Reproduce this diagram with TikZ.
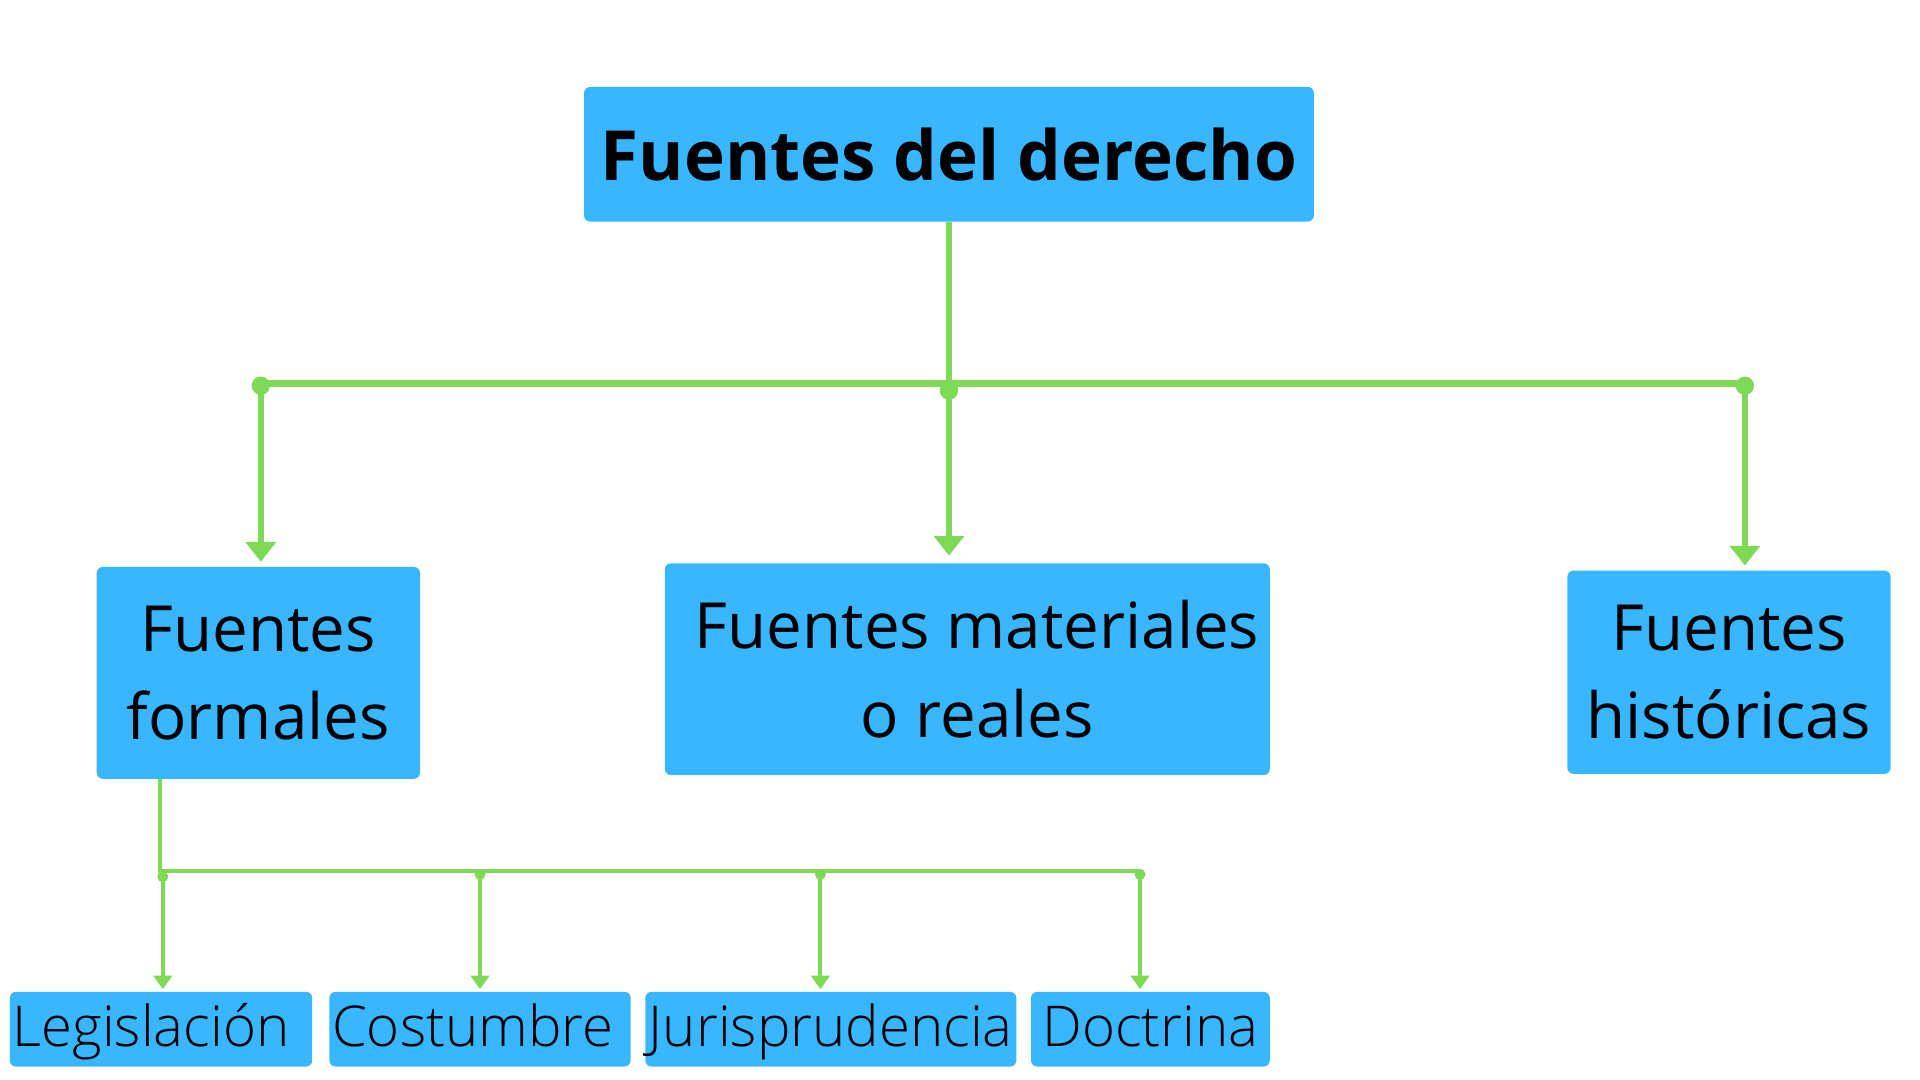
\documentclass[tikz,border=0pt]{standalone}
\usepackage{fontspec}
\setmainfont{Open Sans}
\newfontfamily\lightfont{Open Sans Light}
\usetikzlibrary{arrows.meta}
\definecolor{boxblue}{HTML}{38B6FF}
\definecolor{linegreen}{HTML}{7ED957}
\tikzset{
  box/.style={fill=boxblue, rounded corners=5pt, inner sep=0pt, align=center, text=black},
  titlebox/.style={box, minimum width=596pt, minimum height=110pt, font=\bfseries\fontsize{56.5}{60}\selectfont},
  midbox/.style={box, minimum height=173pt, font=\fontsize{52}{72}\selectfont},
  lowbox/.style={box, minimum height=61pt, text height=33pt, text depth=4pt, font=\lightfont\fontsize{46}{50}\selectfont},
  mainv/.style={draw=linegreen, line width=5pt},
  mainh/.style={draw=linegreen, line width=6pt},
  mainarrow/.style={mainv, -{Triangle[width=24pt,length=16pt]}, shorten >=4pt},
  smallline/.style={draw=linegreen, line width=3.3pt},
  smallarrow/.style={smallline, -{Triangle[width=15pt,length=11pt]}, shorten >=2pt},
  bigdot/.style={fill=linegreen},
}
\begin{document}
\begin{tikzpicture}[x=1pt,y=-1pt]
\useasboundingbox (0,0) rectangle (1568,882);
\fill[white] (0,0) rectangle (1568,882);

% boxes
\node[titlebox] (title) at (775,126) {Fuentes del derecho};
\node[midbox, minimum width=264pt] (form) at (211,549.5) {Fuentes\\formales};
\node[midbox, minimum width=494pt] (mat) at (790,546.5) {\hspace*{16pt}Fuentes materiales\\\hspace*{16pt}o reales};
\node[midbox, minimum width=264pt, minimum height=166pt] (hist) at (1412,549) {Fuentes\\históricas};

\node[lowbox, minimum width=247pt] (leg) at (131.5,840.5) {\hspace*{-16pt}Legislación};
\node[lowbox, minimum width=246pt] (cos) at (392,840.5) {\hspace*{-12pt}Costumbre};
\node[lowbox, minimum width=303pt] (jur) at (678.5,840.5) {Jurisprudencia};
\node[lowbox, minimum width=195pt] (doc) at (939.5,840.5) {Doctrina};

% main connectors
\coordinate (jT) at (775,313);
\coordinate (jL) at (213,313);
\coordinate (jR) at (1425,313);
\coordinate (dL) at (213,315);
\coordinate (dM) at (775,319);
\coordinate (dR) at (1425,315);
\draw[mainv] (title.south) -- (jT);
\draw[mainh, line cap=round] (jL) -- (jR);
\fill[bigdot] (dL) circle (7.5pt);
\fill[bigdot] (dM) circle (7.5pt);
\fill[bigdot] (dR) circle (7.5pt);
\draw[mainarrow] (dL) -- (dL |- form.north);
\draw[mainarrow, shorten >=6pt] (dM) -- (dM |- mat.north);
\draw[mainarrow] (dR) -- (dR |- hist.north);

% small connectors
\coordinate (sJ) at (131,711);
\coordinate (sE) at (931,711);
\coordinate (s1) at (133,716);
\coordinate (s2) at (392,714);
\coordinate (s3) at (670,714);
\coordinate (s4) at (931,714);
\draw[smallline] (sJ |- form.south) -- (sJ) -- (sE);
\foreach \p in {s1,s2,s3,s4} {\fill[bigdot] (\p) circle (4.5pt);}
\draw[smallarrow] (s1) -- (s1 |- leg.north);
\draw[smallarrow] (s2) -- (s2 |- cos.north);
\draw[smallarrow] (s3) -- (s3 |- jur.north);
\draw[smallarrow] (s4) -- (s4 |- doc.north);
\end{tikzpicture}
\end{document}
